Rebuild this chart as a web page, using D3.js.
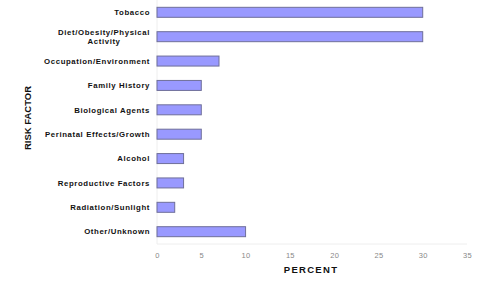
<!DOCTYPE html>
<html>
<head>
<meta charset="utf-8">
<script src="https://cdn.jsdelivr.net/npm/d3@7"></script>
<style>
  body { margin: 0; background: #fff; }
  svg text { font-family: "Liberation Sans", Arial, sans-serif; }
</style>
</head>
<body>
<div id="chart"></div>
<script>
// risk factors and percentages
const factors = [
    ["Tobacco"],
    ["Diet/Obesity/Physical", "Activity"],
    ["Occupation/Environment"],
    ["Family History"],
    ["Biological Agents"],
    ["Perinatal Effects/Growth"],
    ["Alcohol"],
    ["Reproductive Factors"],
    ["Radiation/Sunlight"],
    ["Other/Unknown"]
];
const percents = [30, 30, 7, 5, 5, 5, 3, 3, 2, 10];
const xTicks = [0, 5, 10, 15, 20, 25, 30, 35];

const width = 478, height = 282;
const margin = { top: 0, right: 11, bottom: 38, left: 157 };
const innerW = width - margin.left - margin.right;
const innerH = height - margin.top - margin.bottom;

const svg = d3.select("#chart").append("svg")
    .attr("width", width).attr("height", height);
const g = svg.append("g")
    .attr("transform", `translate(${margin.left},${margin.top})`);

const x = d3.scaleLinear().domain([0, 35]).range([0, innerW]);
const y = d3.scaleBand()
    .domain(factors.map((d, i) => i))
    .range([0, innerH])
    .paddingInner(0.59).paddingOuter(0.3);

// faint axis frame
g.append("line").attr("x1", 0).attr("x2", 0).attr("y1", 0).attr("y2", innerH)
    .attr("stroke", "#eeeeee");
g.append("line").attr("x1", 0).attr("x2", innerW).attr("y1", innerH).attr("y2", innerH)
    .attr("stroke", "#eeeeee");

// bars
g.selectAll("rect.bar").data(percents).enter().append("rect")
    .attr("class", "bar")
    .attr("x", x(0))
    .attr("y", (d, i) => y(i))
    .attr("width", d => x(d) - x(0))
    .attr("height", y.bandwidth())
    .attr("fill", "#9999ff")
    .attr("stroke", "#6f6f9a")
    .attr("stroke-width", 1);

// category labels (multi-line labels are centred as a block, right edge at the axis)
const labels = g.selectAll("text.cat").data(factors).enter().append("text")
    .attr("class", "cat")
    .attr("font-size", "7.8px")
    .attr("font-weight", "bold")
    .attr("letter-spacing", "0.6px")
    .attr("fill", "#111");
labels.each(function (lines, i) {
    const cy = y(i) + y.bandwidth() / 2;
    const t = d3.select(this);
    const spans = lines.map((s, k) => t.append("tspan")
        .attr("y", cy + 2.7 + (k - (lines.length - 1) / 2) * 9)
        .text(s));
    if (lines.length === 1) {
        t.attr("text-anchor", "end");
        spans[0].attr("x", -7);
    } else {
        const w = d3.max(spans, sp => sp.node().getComputedTextLength());
        t.attr("text-anchor", "middle");
        spans.forEach(sp => sp.attr("x", -7 - w / 2));
    }
});

// x axis
const xAxis = g.append("g")
    .attr("transform", `translate(0,${innerH})`)
    .call(d3.axisBottom(x).tickValues(xTicks).tickSize(0).tickPadding(9));
xAxis.select(".domain").remove();
xAxis.selectAll("text")
    .attr("font-size", "7.5px")
    .attr("fill", "#888")
    .attr("letter-spacing", "0.3px")
    .style("font-family", "Liberation Sans, Arial, sans-serif");

// axis titles
svg.append("text")
    .attr("x", margin.left + x(17.5) - 1)
    .attr("y", 273)
    .attr("text-anchor", "middle")
    .attr("font-size", "9.5px")
    .attr("font-weight", "bold")
    .attr("fill", "#111")
    .attr("letter-spacing", "1.3px")
    .text("PERCENT");

svg.append("text")
    .attr("transform", "translate(31,118) rotate(-90)")
    .attr("text-anchor", "middle")
    .attr("font-size", "9.5px")
    .attr("font-weight", "bold")
    .attr("fill", "#111")
    .text("RISK FACTOR");
</script>
</body>
</html>
